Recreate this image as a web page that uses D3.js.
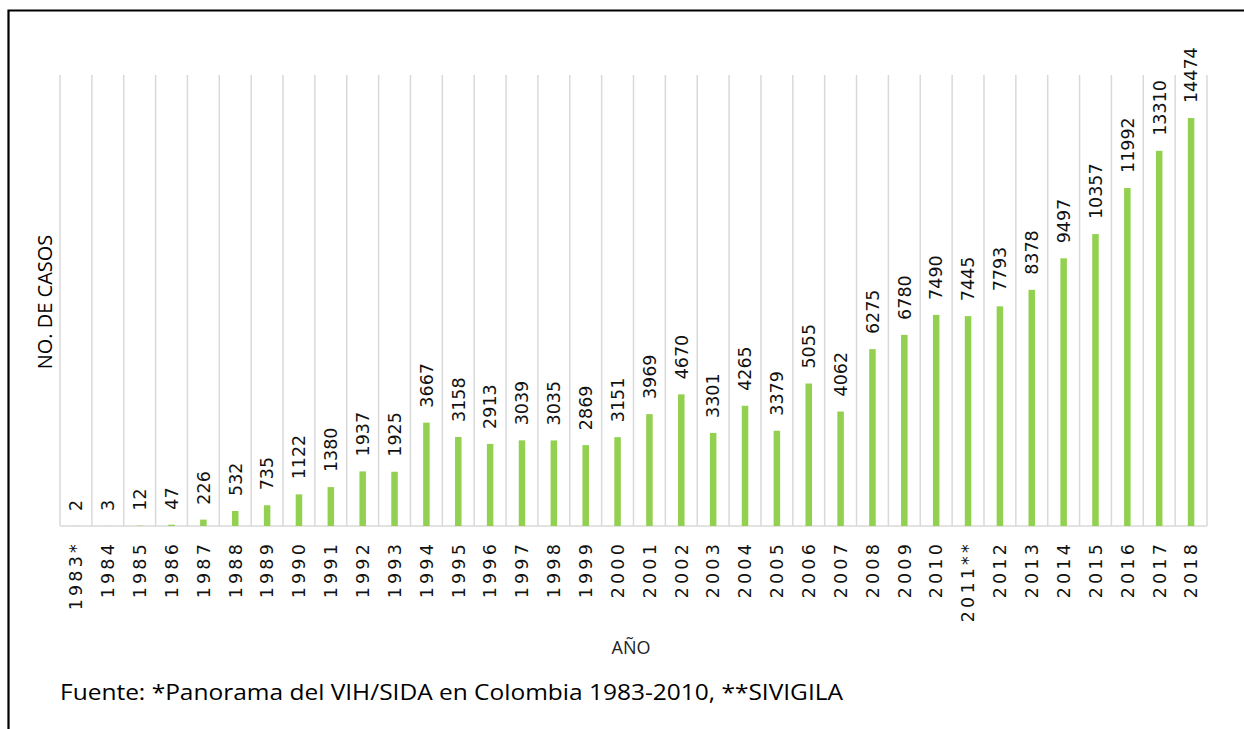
<!DOCTYPE html>
<html>
<head>
<meta charset="utf-8">
<script src="https://cdn.jsdelivr.net/npm/d3@7"></script>
<style>
  body { margin: 0; background: #fff; }
  svg { display: block; }
</style>
</head>
<body>
<div class="chartDiv"></div>
<script>
// data
var years = ["1983*", "1984", "1985", "1986", "1987", "1988", "1989", "1990", "1991", "1992",
	"1993", "1994", "1995", "1996", "1997", "1998", "1999", "2000", "2001", "2002",
	"2003", "2004", "2005", "2006", "2007", "2008", "2009", "2010", "2011**", "2012",
	"2013", "2014", "2015", "2016", "2017", "2018"];
var cases = [2, 3, 12, 47, 226, 532, 735, 1122, 1380, 1937,
	1925, 3667, 3158, 2913, 3039, 3035, 2869, 3151, 3969, 4670,
	3301, 4265, 3379, 5055, 4062, 6275, 6780, 7490, 7445, 7793,
	8378, 9497, 10357, 11992, 13310, 14474];
var yMax = 16000;

var xTitle = "AÑO";
var yTitle = "NO. DE CASOS";
var source = "Fuente: *Panorama del VIH/SIDA en Colombia 1983-2010, **SIVIGILA";

var width = 1244, height = 729;
var margin = {top: 75, left: 60, right: 37, bottom: 203};
var plotW = width - margin.left - margin.right;
var plotH = height - margin.top - margin.bottom;

var svg = d3.select(".chartDiv").append("svg")
	.attr("width", width)
	.attr("height", height);

// frame (only top and left edges show in the picture)
svg.append("path")
	.attr("d", "M8.5," + (height + 5) + "V10.5H" + (width + 5))
	.attr("fill", "none")
	.attr("stroke", "#000")
	.attr("stroke-width", 2.2);

var g = svg.append("g")
	.attr("transform", "translate(" + margin.left + "," + margin.top + ")");

var xScale = d3.scaleBand().domain(years).range([0, plotW]);
var yScale = d3.scaleLinear().domain([0, yMax]).range([plotH, 0]);

// vertical grid lines between the categories
var bounds = years.map(function (d) { return xScale(d); }).concat([plotW]);
g.selectAll(".grid")
	.data(bounds)
	.enter().append("line")
	.attr("class", "grid")
	.attr("x1", function (d) { return d; })
	.attr("x2", function (d) { return d; })
	.attr("y1", 0)
	.attr("y2", plotH)
	.attr("stroke", "#d9d9d9")
	.attr("stroke-width", 1.5);

// baseline
g.append("line")
	.attr("x1", 0).attr("x2", plotW)
	.attr("y1", yScale(0)).attr("y2", yScale(0))
	.attr("stroke", "#d9d9d9")
	.attr("stroke-width", 1.5);

var barW = 6.5;
g.selectAll(".bar")
	.data(cases)
	.enter().append("rect")
	.attr("class", "bar")
	.attr("x", function (d, i) { return xScale(years[i]) + xScale.bandwidth() / 2 - barW / 2; })
	.attr("y", function (d) { return yScale(d); })
	.attr("width", barW)
	.attr("height", function (d) { return yScale(0) - yScale(d); })
	.attr("fill", "#92d050");

// value labels
g.selectAll(".val")
	.data(cases)
	.enter().append("text")
	.attr("class", "val")
	.attr("transform", function (d, i) {
		return "translate(" + (xScale(years[i]) + xScale.bandwidth() / 2) + "," + (yScale(d) - 15) + ") rotate(-90)";
	})
	.attr("dy", "0.36em")
	.attr("text-anchor", "start")
	.style("font-family", "DejaVu Sans")
	.style("font-size", "17.5px")
	.style("fill", "#111")
	.text(function (d) { return d; });

// x axis labels
var xAxis = g.append("g")
	.attr("transform", "translate(0," + plotH + ")")
	.call(d3.axisBottom(xScale).tickSize(0).tickPadding(0));
xAxis.select(".domain").remove();
xAxis.selectAll("text")
	.attr("transform", "translate(0,15) rotate(-90)")
	.attr("x", 0)
	.attr("y", 0)
	.attr("dy", "0.36em")
	.attr("text-anchor", "end")
	.style("font-family", "DejaVu Sans")
	.style("font-size", "17.5px")
	.style("letter-spacing", "3.2px")
	.style("fill", "#111");

// titles
svg.append("text")
	.attr("transform", "translate(45," + 302 + ") rotate(-90)")
	.attr("dy", "0.36em")
	.attr("text-anchor", "middle")
	.style("font-family", "Open Sans")
	.style("font-size", "20px")
	.style("fill", "#000")
	.text(yTitle);

svg.append("text")
	.attr("x", 631)
	.attr("y", 654)
	.attr("text-anchor", "middle")
	.style("font-family", "Open Sans")
	.style("font-size", "18px")
	.style("fill", "#222")
	.text(xTitle);

svg.append("text")
	.attr("x", 60)
	.attr("y", 700)
	.attr("textLength", 783)
	.attr("lengthAdjust", "spacingAndGlyphs")
	.style("font-family", "Open Sans")
	.style("font-size", "21px")
	.style("fill", "#000")
	.text(source);
</script>
</body>
</html>
